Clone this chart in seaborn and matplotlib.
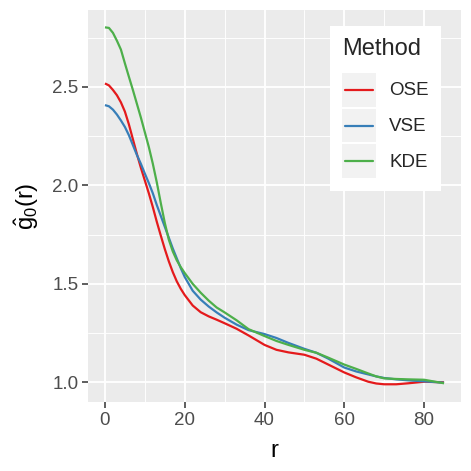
import numpy as np
import pandas as pd
import matplotlib
matplotlib.use("Agg")
import matplotlib.pyplot as plt
import seaborn as sns
from matplotlib.legend_handler import HandlerBase
from matplotlib.patches import Rectangle
from matplotlib.lines import Line2D

# ---- data ----
r = [0, 1, 2, 3, 4, 5, 6, 7, 8, 9, 10, 11, 12, 13, 14, 15, 16, 17, 18, 19,
     20, 22, 24, 26, 28, 30, 33, 36, 40, 43, 46, 50, 53, 56, 60, 63, 66, 68,
     70, 73, 76, 80, 85]
ose = [2.518, 2.508, 2.485, 2.458, 2.422, 2.375, 2.31, 2.235, 2.16, 2.09,
       2.025, 1.96, 1.89, 1.815, 1.745, 1.677, 1.615, 1.56, 1.513, 1.475,
       1.443, 1.39, 1.356, 1.335, 1.318, 1.30, 1.272, 1.238, 1.19, 1.165,
       1.152, 1.14, 1.12, 1.09, 1.05, 1.025, 1.003, 0.994, 0.99, 0.99, 0.995,
       1.003, 1.0]
vse = [2.408, 2.402, 2.385, 2.36, 2.33, 2.297, 2.255, 2.205, 2.155, 2.11,
       2.06, 2.012, 1.96, 1.90, 1.845, 1.79, 1.735, 1.68, 1.63, 1.58, 1.535,
       1.465, 1.42, 1.385, 1.355, 1.328, 1.293, 1.265, 1.245, 1.225, 1.20,
       1.17, 1.15, 1.12, 1.075, 1.055, 1.04, 1.03, 1.022, 1.015, 1.01, 1.005,
       0.998]
kde = [2.803, 2.80, 2.775, 2.735, 2.69, 2.62, 2.552, 2.485, 2.415, 2.345,
       2.27, 2.195, 2.11, 2.015, 1.91, 1.81, 1.725, 1.665, 1.62, 1.585, 1.555,
       1.50, 1.455, 1.415, 1.38, 1.355, 1.315, 1.27, 1.235, 1.21, 1.19,
       1.165, 1.15, 1.125, 1.09, 1.068, 1.045, 1.03, 1.02, 1.017, 1.015,
       1.013, 0.995]
methods = ["OSE", "VSE", "KDE"]
colors = {"OSE": "#E41A1C", "VSE": "#377EB8", "KDE": "#4DAF4A"}
xticks = [0, 20, 40, 60, 80]
yticks = [1.0, 1.5, 2.0, 2.5]

df = pd.concat([
    pd.DataFrame({"r": r, "g": ose, "Method": "OSE"}),
    pd.DataFrame({"r": r, "g": vse, "Method": "VSE"}),
    pd.DataFrame({"r": r, "g": kde, "Method": "KDE"}),
], ignore_index=True)

sns.set_theme(style="white")
plt.rcParams["font.family"] = ["Liberation Sans", "DejaVu Sans"]
plt.rcParams["mathtext.fontset"] = "custom"
plt.rcParams["mathtext.rm"] = "Liberation Sans"
plt.rcParams["mathtext.it"] = "Liberation Sans"

fig = plt.figure(figsize=(4.71, 4.71), dpi=100)
ax = fig.add_axes([88 / 471, 1 - 402 / 471, (461 - 88) / 471, (402 - 10) / 471])
ax.set_facecolor("#EBEBEB")

sns.lineplot(data=df, x="r", y="g", hue="Method", hue_order=methods,
             palette=colors, lw=1.6, ax=ax, legend=False, sort=False,
             estimator=None)
for ln in ax.get_lines():
    ln.set_solid_joinstyle("round")
    ln.set_solid_capstyle("butt")

ax.set_xlim(-4.25, 89.25)
ax.set_ylim(0.9, 2.891)
ax.set_xticks(xticks)
ax.set_xticklabels([f"{v:d}" for v in xticks])
ax.set_yticks(yticks)
ax.set_yticklabels([f"{v:.1f}" for v in yticks])
ax.set_xticks([10, 30, 50, 70], minor=True)
ax.set_yticks([1.25, 1.75, 2.25, 2.75], minor=True)
ax.grid(which="major", color="white", lw=1.3)
ax.grid(which="minor", color="white", lw=0.65)
ax.set_axisbelow(True)
for s in ax.spines.values():
    s.set_visible(False)
ax.tick_params(which="major", length=4, width=1.1, color="#333333",
               labelsize=13.5, labelcolor="#4D4D4D", pad=3, left=True,
               bottom=True)
ax.tick_params(which="minor", length=0)

ax.set_xlabel("r", fontsize=17, color="black", labelpad=8)
ax.set_ylabel(r"$\hat{\mathrm{g}}_{0}\mathrm{(r)}$", fontsize=17,
              color="black", labelpad=8)


class KeyHandler(HandlerBase):
    def create_artists(self, legend, orig_handle, xdescent, ydescent,
                       width, height, fontsize, trans):
        rect = Rectangle((-xdescent, -ydescent), width, height,
                         facecolor="#F2F2F2", edgecolor="none",
                         transform=trans)
        yc = -ydescent + height / 2
        line = Line2D([-xdescent + 0.08 * width, -xdescent + 0.92 * width],
                      [yc, yc], color=orig_handle.get_color(), lw=1.6,
                      transform=trans)
        return [rect, line]


handles = [Line2D([], [], color=colors[m]) for m in methods]
leg = ax.legend(handles, methods, title="Method", loc="upper right",
                bbox_to_anchor=((441 - 88) / 373, (402 - 26) / 392),
                borderaxespad=0, fontsize=13.5, title_fontsize=17,
                frameon=True, fancybox=False, framealpha=1,
                handler_map={Line2D: KeyHandler()}, handlelength=1.8,
                handleheight=2.41, labelspacing=0.1, handletextpad=0.7,
                borderpad=0.65, alignment="left")
leg._legend_box.sep = 9
leg.get_frame().set_facecolor("white")
leg.get_frame().set_edgecolor("none")

fig.savefig("out.png", dpi=100)
